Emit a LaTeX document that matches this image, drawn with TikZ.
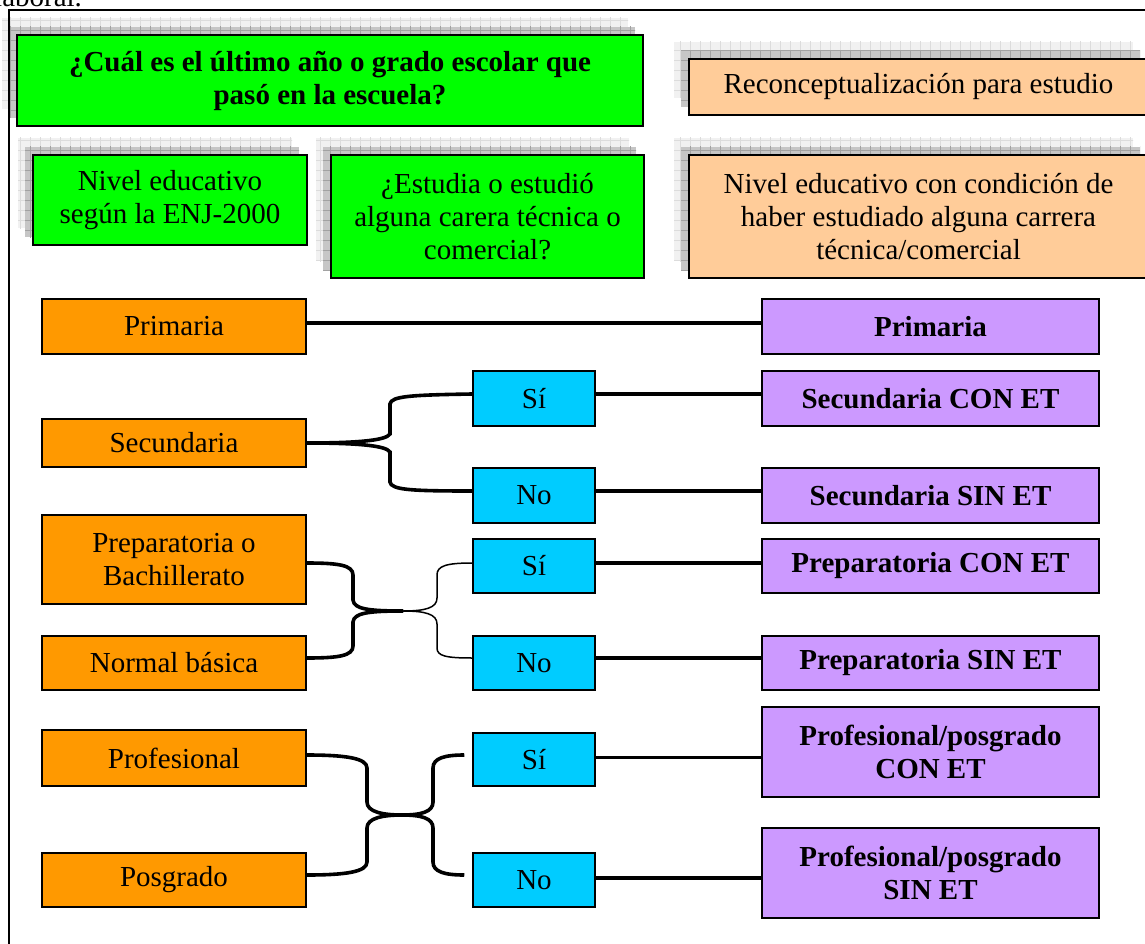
\documentclass[tikz,border=0pt]{standalone}
\usepackage{fontspec}
\setmainfont{Liberation Serif}
\usetikzlibrary{calc}

\definecolor{hdrgreen}{HTML}{00FF00}
\definecolor{peach}{HTML}{FFCC99}
\definecolor{orng}{HTML}{FF9900}
\definecolor{skyb}{HTML}{00CCFF}
\definecolor{lilac}{HTML}{CC99FF}
\definecolor{shlight}{HTML}{F1F1F1}
\definecolor{shlightline}{HTML}{DCDCDC}
\definecolor{shdark}{HTML}{C6C6C6}
\definecolor{shdarkline}{HTML}{A2A2A2}

% two stacked grid-textured shadows behind a header box (x1,y1,x2,y2)
\newcommand{\hdrshadow}[4]{%
  \begin{scope}
    \clip (#1-15,#2-17) rectangle (#3-15,#4-17);
    \fill[shlight] (#1-15,#2-17) rectangle (#3-15,#4-17);
    \draw[shlightline, line width=0.8pt, step=10pt] (#1-25,#2-27) grid (#3,#4);
  \end{scope}
  \begin{scope}
    \clip (#1-8,#2-8) rectangle (#3-8,#4-8);
    \fill[shdark] (#1-8,#2-8) rectangle (#3-8,#4-8);
    \draw[shdarkline, line width=0.8pt, step=10pt] (#1-25,#2-27) grid (#3,#4);
  \end{scope}}

\tikzset{
  txt/.style={font=\fontsize{29}{33}\selectfont},
  btxt/.style={font=\fontsize{29}{33}\selectfont\bfseries},
  box/.style={draw=black, line width=1.5pt, inner sep=0pt, align=center, txt},
  hdr/.style={box, line width=2pt},
  orangebox/.style={box, fill=orng, minimum width=264pt},
  cyanbox/.style={box, fill=skyb, minimum width=122pt},
  lilacbox/.style={box, fill=lilac, minimum width=337pt, btxt},
  conn/.style={line width=3.6pt},
  thinconn/.style={line width=1.5pt},
}

\begin{document}
\begin{tikzpicture}[x=1pt, y=-1pt]
\useasboundingbox (0,0) rectangle (1145,944);
\fill[white] (0,0) rectangle (1145,944);

% shadows of the header boxes
\hdrshadow{17}{35}{643}{126}
\hdrshadow{689}{59}{1148}{115}
\hdrshadow{33}{155}{307}{245}
\hdrshadow{331}{155}{644}{278}
\hdrshadow{689}{155}{1148}{278}

% frame and the end of the preceding line of text
\draw[line width=2pt] (8.5,950) -- (8.5,10) -- (1150,10);
\node[txt, anchor=base west, inner sep=0pt] (lab) at (-6,7) {laboral.};

% header boxes
\node[hdr, fill=hdrgreen, btxt, minimum width=626pt, minimum height=91pt] (q1) at (330,80.5)
  {¿Cuál es el último año o grado escolar que\\pasó en la escuela?};
\node[hdr, fill=peach, minimum width=459pt, minimum height=56pt] (rec) at (918.5,87)
  {Reconceptualización para estudio};
\node[hdr, fill=hdrgreen, minimum width=274pt, minimum height=90pt] (niv) at (170,200)
  {Nivel educativo\\según la ENJ-2000};
\node[hdr, fill=hdrgreen, minimum width=313pt, minimum height=123pt] (est) at (487.5,216.5)
  {¿Estudia o estudió\\alguna carera técnica o\\comercial?};
\node[hdr, fill=peach, minimum width=459pt, minimum height=123pt] (cond) at (918.5,216.5)
  {Nivel educativo con condición de\\haber estudiado alguna carrera\\técnica/comercial};

% educational levels
\node[orangebox, minimum height=55pt] (o1) at (174,326.5) {Primaria};
\node[orangebox, minimum height=48pt] (o2) at (174,443) {Secundaria};
\node[orangebox, minimum height=89pt] (o3) at (174,559.5) {Preparatoria o\\Bachillerato};
\node[orangebox, minimum height=54pt] (o4) at (174,663) {Normal básica};
\node[orangebox, minimum height=56pt] (o5) at (174,758) {Profesional};
\node[orangebox, minimum height=54pt] (o6) at (174,880) {Posgrado};

% technical / commercial career answers
\node[cyanbox, minimum height=55pt] (c1) at (534,398.5) {Sí};
\node[cyanbox, minimum height=55pt] (c2) at (534,495.5) {No};
\node[cyanbox, minimum height=54pt] (c3) at (534,566) {Sí};
\node[cyanbox, minimum height=54pt] (c4) at (534,663) {No};
\node[cyanbox, minimum height=53pt] (c5) at (534,759.5) {Sí};
\node[cyanbox, minimum height=54pt] (c6) at (534,880) {No};

% resulting categories
\node[lilacbox, minimum height=55pt] (p1) at (930.5,326.5) {Primaria};
\node[lilacbox, minimum height=55pt] (p2) at (930.5,398.5) {Secundaria CON ET};
\node[lilacbox, minimum height=55pt] (p3) at (930.5,495.5) {Secundaria SIN ET};
\node[lilacbox, minimum height=54pt] (p4) at (930.5,566) {Preparatoria CON ET};
\node[lilacbox, minimum height=54pt] (p5) at (930.5,663) {Preparatoria SIN ET};
\node[lilacbox, minimum height=90pt] (p6) at (930.5,752) {Profesional/posgrado\\CON ET};
\node[lilacbox, minimum height=90pt] (p7) at (930.5,873) {Profesional/posgrado\\SIN ET};

% straight links
\draw[conn] ([yshift=3.5pt]o1.east) -- ([yshift=3.5pt]p1.west);
\draw[conn] ([yshift=4.5pt]c1.east) -- ([yshift=4.5pt]p2.west);
\draw[conn] ([yshift=4.5pt]c2.east) -- ([yshift=4.5pt]p3.west);
\draw[conn] ([yshift=3pt]c3.east) -- ([yshift=3pt]p4.west);
\draw[conn] ([yshift=5pt]c4.east) -- ([yshift=5pt]p5.west);
\draw[conn] ([yshift=2pt]c5.east) -- ([yshift=2pt]c5.east -| p6.west);
\draw[conn] ([yshift=2pt]c6.east) -- ([yshift=2pt]c6.east -| p7.west);

% Secundaria brace
\draw[conn] (o2.east) .. controls (352,443) and (386,441) .. (390,434) -- (390,404)
  .. controls (391,396) and (412,395) .. ([yshift=4.5pt]c1.west);
\draw[conn] (o2.east) .. controls (352,443) and (386,445) .. (390,452) -- (390,482)
  .. controls (391,490) and (412,491) .. ([yshift=4.5pt]c2.west);

% Preparatoria / Normal básica join
\coordinate (m2) at (403,611);
\draw[conn] ([yshift=-3.5pt]o3.east) .. controls (338,563) and (353,565) .. (353,575) -- (353,600)
  .. controls (354,609) and (368,611) .. (m2);
\draw[conn] ([yshift=5pt]o4.east) .. controls (338,658) and (353,656) .. (353,646) -- (353,622)
  .. controls (354,613) and (368,611) .. (m2);
\draw[thinconn] (m2) .. controls (425,611) and (437,608) .. (437,598) -- (437,575)
  .. controls (437,566) and (446,563) .. ([yshift=3pt]c3.west);
\draw[thinconn] (m2) .. controls (425,611) and (437,614) .. (437,624) -- (437,648)
  .. controls (437,656) and (446,658) .. ([yshift=5pt]c4.west);

% Profesional / Posgrado crossing
\coordinate (m3) at (402,815);
\coordinate (e5) at ([xshift=-8pt,yshift=4.5pt]c5.west);
\coordinate (e6) at ([xshift=-8pt,yshift=5pt]c6.west);
\draw[conn] ([yshift=3pt]o5.east) .. controls (345,755) and (367,758) .. (367,768) -- (367,802)
  .. controls (367,812) and (383,815) .. (m3);
\draw[conn] ([yshift=5pt]o6.east) .. controls (345,875) and (367,872) .. (367,862) -- (367,828)
  .. controls (367,818) and (383,815) .. (m3);
\draw[conn] (m3) .. controls (421,815) and (433,812) .. (433,802) -- (433,768)
  .. controls (433,758) and (445,755) .. (e5);
\draw[conn] (m3) .. controls (421,815) and (433,818) .. (433,828) -- (433,862)
  .. controls (433,872) and (445,875) .. (e6);
\end{tikzpicture}
\end{document}
